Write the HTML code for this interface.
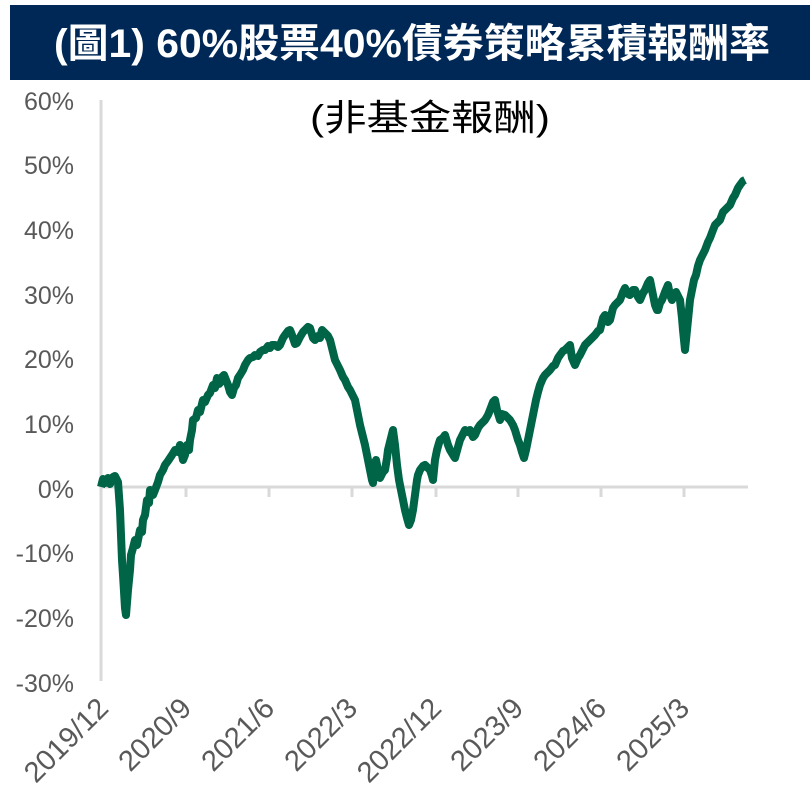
<!DOCTYPE html>
<html><head><meta charset="utf-8"><style>
body{margin:0;background:#fff;width:810px;height:802px;overflow:hidden}
</style></head><body>
<svg width="810" height="802" xmlns="http://www.w3.org/2000/svg" style="display:block">
<rect x="10" y="5" width="800" height="75" fill="#002856"/>
<text x="412" y="57" text-anchor="middle" textLength="716" lengthAdjust="spacingAndGlyphs" font-family="Liberation Sans,'Noto Sans CJK TC',sans-serif" font-weight="bold" font-size="40" fill="#fff">(圖1) 60%股票40%債券策略累積報酬率</text>
<text x="430" y="130" text-anchor="middle" textLength="240" lengthAdjust="spacingAndGlyphs" font-family="Liberation Sans,'Noto Sans CJK TC',sans-serif" font-size="36" fill="#000">(非基金報酬)</text>
<g font-family="Liberation Sans,sans-serif" font-size="25" fill="#595959" text-anchor="end">
<text x="74" y="110">60%</text><text x="74" y="174">50%</text><text x="74" y="239">40%</text><text x="74" y="304">30%</text><text x="74" y="368">20%</text><text x="74" y="433">10%</text><text x="74" y="498">0%</text><text x="74" y="562">-10%</text><text x="74" y="627">-20%</text><text x="74" y="692">-30%</text>
</g>
<line x1="101" y1="100" x2="101" y2="681" stroke="#d9d9d9" stroke-width="3"/>
<line x1="101" y1="487" x2="748" y2="487" stroke="#d9d9d9" stroke-width="3"/>
<g stroke="#d9d9d9" stroke-width="3">
<line x1="186" y1="487" x2="186" y2="497"/><line x1="269" y1="487" x2="269" y2="497"/><line x1="352" y1="487" x2="352" y2="497"/><line x1="436" y1="487" x2="436" y2="497"/><line x1="518" y1="487" x2="518" y2="497"/><line x1="601" y1="487" x2="601" y2="497"/><line x1="684" y1="487" x2="684" y2="497"/>
</g>
<g font-family="Liberation Sans,sans-serif" font-size="29" fill="#595959" text-anchor="end">
<text transform="translate(110,710) rotate(-45)">2019/12</text>
<text transform="translate(193,710) rotate(-45)">2020/9</text>
<text transform="translate(276,710) rotate(-45)">2021/6</text>
<text transform="translate(359,710) rotate(-45)">2022/3</text>
<text transform="translate(443,710) rotate(-45)">2022/12</text>
<text transform="translate(525,710) rotate(-45)">2023/9</text>
<text transform="translate(608,710) rotate(-45)">2024/6</text>
<text transform="translate(691,710) rotate(-45)">2025/3</text>
</g>
<polyline fill="none" stroke="#006446" stroke-width="8" stroke-linejoin="round" points="101,487 103,479 105,483 108,478 110,484 113,477 115,476 118,482 120,510 122,560 123,575 125,608 126,615 128,590 130,570 131,555 133,548 135,540 137,545 140,530 142,532 143,520 145,515 147,500 149,503 150,490 153,495 155,490 158,482 160,475 163,470 165,465 168,461 170,458 172,455 175,450 178,452 180,445 183,460 185,455 187,445 189,450 190,440 192,430 193,420 196,418 198,410 200,412 203,400 205,402 208,395 210,393 213,385 215,388 217,378 219,384 220,383 222,377 224,375 226,380 228,385 230,392 232,395 234,388 236,385 238,378 240,375 243,370 245,365 248,360 250,358 253,357 255,355 258,356 260,352 263,350 265,350 268,346 270,348 272,345 275,345 278,347 280,345 283,338 285,335 288,331 290,330 292,335 293,338 295,344 297,343 299,339 300,337 303,332 305,330 308,327 310,328 313,338 315,340 318,336 320,338 322,330 325,333 328,336 330,340 333,352 335,360 338,366 340,370 343,377 345,380 348,387 350,390 353,396 355,400 358,415 360,425 363,437 365,445 368,460 370,470 372,480 373,483 375,465 376,460 378,470 380,478 383,472 385,470 387,458 388,450 391,438 393,430 395,445 397,465 399,480 401,490 403,500 405,510 407,518 409,525 411,520 413,510 415,495 417,480 418,475 420,470 423,466 425,465 428,468 430,470 432,476 433,480 435,460 437,450 439,443 440,440 443,438 445,435 448,445 450,450 453,455 455,458 458,447 460,440 463,434 465,430 468,432 470,430 473,437 475,435 478,428 480,425 483,422 485,420 488,415 490,410 493,402 495,400 497,410 500,420 502,414 505,415 508,418 510,420 513,425 515,430 518,440 520,445 522,452 524,458 526,450 528,440 530,430 532,420 534,410 536,400 538,392 540,385 543,378 545,375 548,372 550,370 553,366 555,365 558,358 560,355 563,351 565,350 568,347 570,345 572,358 575,365 578,358 580,355 583,349 585,345 588,342 590,340 593,337 595,335 598,331 600,330 603,318 605,315 608,322 610,320 613,308 615,305 618,302 620,300 623,292 625,288 628,294 630,295 633,290 635,290 638,297 640,300 643,293 645,290 648,283 650,280 653,295 655,305 657,310 658,310 660,303 662,300 665,292 668,285 670,295 672,300 674,295 676,292 678,296 680,300 682,318 683,330 685,350 687,330 688,320 690,300 692,290 694,280 696,275 698,266 700,260 703,254 705,250 708,242 710,238 713,230 715,225 718,222 720,220 723,212 725,210 728,207 730,205 733,198 735,195 738,188 740,185 743,181 745,180"/>
</svg>
</body></html>
